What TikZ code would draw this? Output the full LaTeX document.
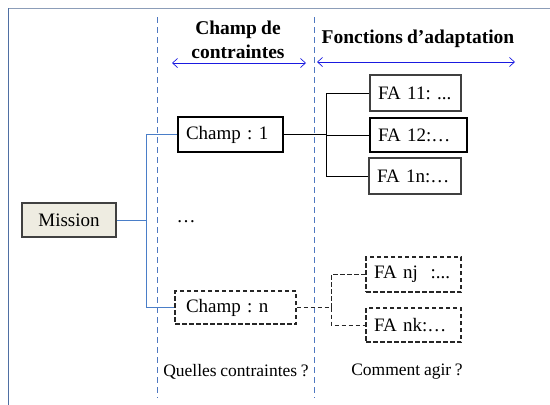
\documentclass[tikz,border=0pt]{standalone}
\usepackage{fontspec}
\setmainfont{Liberation Serif}[WordSpace=0.85]
\usetikzlibrary{arrows.meta}
\frenchspacing
\definecolor{framec}{HTML}{4F6FA3}
\definecolor{frametop}{HTML}{8C9DB8}
\definecolor{busblue}{HTML}{4A7EC8}
\definecolor{sepblue}{HTML}{4F78C0}
\definecolor{arrblue}{HTML}{1A1AE0}
\definecolor{boxgray}{HTML}{404040}
\definecolor{missfill}{HTML}{EEECE1}
\tikzset{
  box/.style={draw=boxgray, line width=1.1pt, inner xsep=8pt, inner ysep=0pt, align=left,
    font=\fontsize{19}{22}\selectfont},
  dbox/.style={box, dashed, dash pattern=on 4.5pt off 2.5pt, draw=black!85},
  busline/.style={draw=busblue, line width=0.9pt},
  blkline/.style={draw=black, line width=0.9pt},
  dline/.style={draw=black!85, line width=0.9pt, dash pattern=on 4.5pt off 2.5pt},
  sepline/.style={draw=sepblue, line width=0.8pt, dash pattern=on 6pt off 4pt},
  harrow/.style={draw=arrblue, line width=0.7pt, {Straight Barb[length=5pt,width=9pt]}-{Straight Barb[length=5pt,width=9pt]}},
  head/.style={font=\bfseries\fontsize{19.5}{24}\selectfont, align=center},
  lbl/.style={font=\fontsize{17.5}{20}\selectfont}
}
\begin{document}
\begin{tikzpicture}[x=1pt,y=-1pt]
\useasboundingbox (0,0) rectangle (550,405);
% frame
\coordinate (fbl) at (8,405); \coordinate (ftl) at (8,8); \coordinate (ftr) at (550,8);
\draw[frametop, line width=1pt] (ftl) -- (ftr);
\draw[framec, line width=1pt] (fbl) -- (ftl);
% separators
\coordinate (s1t) at (157,17); \coordinate (s1b) at (157,398);
\coordinate (s2t) at (314,17); \coordinate (s2b) at (314,398);
\draw[sepline] (s1t) -- (s1b);
\draw[sepline] (s2t) -- (s2b);
% headers
\node[head] (h1) at (238,40) {Champ de\\contraintes};
\node[head] (h2) at (418,39) {Fonctions d’adaptation};
\coordinate (a1l) at (172,63); \coordinate (a1r) at (306,63);
\coordinate (a2l) at (317,62); \coordinate (a2r) at (515,62);
\draw[harrow] (a1l) -- (a1r);
\draw[harrow] (a2l) -- (a2r);
% nodes
\node[box, fill=missfill, text width=78pt, minimum height=34pt, align=center] (mission) at (69,220) {Mission};
\node[box, draw=black, text width=89pt, minimum height=35pt, inner xsep=8pt] (champ1) at (230.5,134.5) {\mbox{Champ : 1}};
\node[dbox, text width=99pt, minimum height=33pt, inner xsep=11pt] (champn) at (235.5,307.5) {\mbox{Champ : n}};
\node[lbl, font=\fontsize{19}{22}\selectfont] (dots) at (186,222) {…};
\node[box, text width=75pt, minimum height=36pt] (fa11) at (415.5,93) {\mbox{FA 11: ...}};
\node[box, draw=black, text width=81pt, minimum height=34pt] (fa12) at (418.5,135) {\mbox{FA 12:…}};
\node[box, text width=76pt, minimum height=36pt] (fa1n) at (415,176) {\mbox{FA 1n:…}};
\node[dbox, text width=79pt, minimum height=35pt] (fanj) at (413.5,274.5) {\mbox{FA nj\ \ :...}};
\node[dbox, text width=79pt, minimum height=34pt] (fank) at (413.5,325) {\mbox{FA nk:…}};
% connectors
\coordinate (bus1) at (146,220);
\draw[busline] (mission.east) -- (bus1);
\draw[busline] (bus1) |- (champ1.west);
\draw[busline] (bus1) |- (champn.west);
\coordinate (bus2) at (326,134.5);
\draw[blkline] (champ1.east) -- (bus2);
\draw[blkline] (bus2) |- (fa11.west);
\draw[blkline] (bus2) |- (fa12.west);
\draw[blkline] (bus2) |- (fa1n.west);
\coordinate (bus3) at (331,307.5);
\draw[dline] (champn.east) -- (bus3);
\draw[dline] (bus3) |- (fanj.west);
\draw[dline] (bus3) |- (fank.west);
% bottom labels
\node[lbl] (q1) at (236,372) {Quelles contraintes ?};
\node[lbl] (q2) at (407,372) {Comment agir ?};
\end{tikzpicture}
\end{document}
